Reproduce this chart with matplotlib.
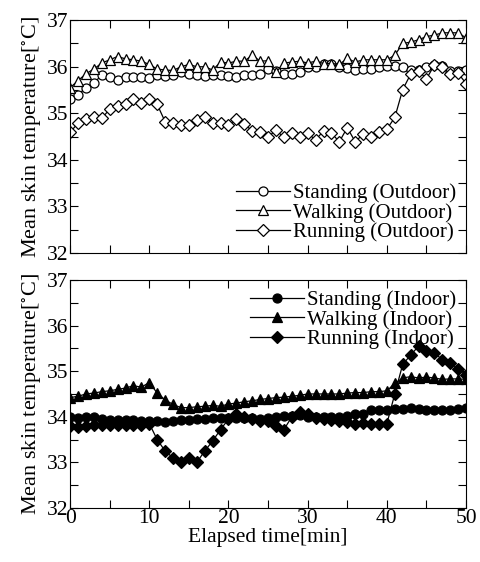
import matplotlib
matplotlib.use('Agg')
import matplotlib.pyplot as plt
from matplotlib.ticker import MultipleLocator

plt.rcParams['font.family'] = ['Liberation Serif', 'DejaVu Serif']
plt.rcParams['mathtext.fontset'] = 'stix'

# elapsed time [min]
t = list(range(0, 51))

# outdoor
stand_out = [35.30, 35.40, 35.55, 35.65, 35.82, 35.77, 35.72, 35.77, 35.78, 35.77,
             35.75, 35.83, 35.80, 35.83, 35.88, 35.85, 35.82, 35.80, 35.83, 35.83,
             35.80, 35.78, 35.83, 35.83, 35.84, 35.96, 35.90, 35.85, 35.85, 35.88,
             36.00, 36.00, 36.05, 36.05, 36.00, 35.98, 35.92, 35.96, 35.96, 35.99,
             36.02, 36.02, 35.99, 35.92, 35.92, 36.00, 36.04, 36.02, 35.90, 35.90,
             35.93]
walk_out = [35.55, 35.70, 35.85, 35.95, 36.08, 36.15, 36.22, 36.17, 36.15, 36.12,
            36.05, 35.95, 35.93, 35.92, 36.00, 36.05, 36.00, 36.00, 35.93, 36.10,
            36.08, 36.12, 36.12, 36.25, 36.12, 36.13, 35.88, 36.08, 36.10, 36.12,
            36.08, 36.12, 36.07, 36.07, 36.05, 36.18, 36.10, 36.15, 36.15, 36.15,
            36.15, 36.25, 36.50, 36.53, 36.58, 36.65, 36.68, 36.73, 36.73, 36.73,
            36.62]
run_out = [34.59, 34.79, 34.87, 34.91, 34.89, 35.09, 35.16, 35.20, 35.30, 35.23,
           35.30, 35.19, 34.82, 34.79, 34.75, 34.75, 34.86, 34.91, 34.80, 34.80,
           34.75, 34.87, 34.77, 34.62, 34.59, 34.49, 34.64, 34.48, 34.57, 34.50,
           34.57, 34.43, 34.62, 34.57, 34.39, 34.69, 34.39, 34.55, 34.49, 34.59,
           34.66, 34.91, 35.51, 35.84, 35.91, 35.74, 36.04, 36.00, 35.84, 35.86,
           35.64]

# indoor
stand_in = [34.00, 33.97, 34.00, 34.00, 33.95, 33.93, 33.92, 33.92, 33.93, 33.90,
            33.90, 33.90, 33.88, 33.90, 33.92, 33.93, 33.95, 33.95, 33.97, 33.97,
            33.98, 33.98, 33.98, 33.97, 33.96, 33.98, 34.00, 34.02, 34.02, 34.03,
            34.00, 34.00, 34.00, 34.00, 34.00, 34.02, 34.05, 34.07, 34.15, 34.15,
            34.15, 34.17, 34.18, 34.20, 34.17, 34.15, 34.15, 34.15, 34.15, 34.17,
            34.20]
walk_in = [34.42, 34.45, 34.50, 34.52, 34.55, 34.57, 34.60, 34.63, 34.68, 34.65,
           34.75, 34.52, 34.37, 34.27, 34.20, 34.20, 34.22, 34.23, 34.25, 34.23,
           34.28, 34.30, 34.33, 34.35, 34.38, 34.40, 34.42, 34.43, 34.45, 34.47,
           34.50, 34.50, 34.50, 34.50, 34.50, 34.52, 34.53, 34.53, 34.55, 34.55,
           34.57, 34.73, 34.85, 34.88, 34.85, 34.87, 34.85, 34.82, 34.83, 34.83,
           34.82]
run_in = [33.80, 33.78, 33.80, 33.82, 33.83, 33.83, 33.83, 33.83, 33.83, 33.82,
          33.85, 33.50, 33.25, 33.10, 33.00, 33.10, 33.00, 33.25, 33.47, 33.72,
          33.95, 34.05, 34.00, 33.95, 33.90, 33.90, 33.80, 33.72, 34.00, 34.10,
          34.05, 33.98, 33.95, 33.93, 33.90, 33.88, 33.85, 33.87, 33.85, 33.85,
          33.85, 34.50, 35.15, 35.35, 35.55, 35.45, 35.40, 35.25, 35.18, 35.05,
          34.92]

fig = plt.figure(figsize=(4.8, 5.62), dpi=100)
ax1 = fig.add_axes([0.146, 0.550, 0.825, 0.414])
ax2 = fig.add_axes([0.146, 0.096, 0.825, 0.406])

kw = dict(color='black', lw=0.9, mew=0.9)
ax1.plot(t, stand_out, marker='o', ms=6.5, mfc='white', label='Standing (Outdoor)', **kw)
ax1.plot(t, walk_out, marker='^', ms=7, mfc='white', label='Walking (Outdoor)', **kw)
ax1.plot(t, run_out, marker='D', ms=6, mfc='white', label='Running (Outdoor)', **kw)

ax2.plot(t, stand_in, marker='o', ms=6.5, mfc='black', label='Standing (Indoor)', **kw)
ax2.plot(t, walk_in, marker='^', ms=7, mfc='black', label='Walking (Indoor)', **kw)
ax2.plot(t, run_in, marker='D', ms=6, mfc='black', label='Running (Indoor)', **kw)

for ax in (ax1, ax2):
    ax.set_xlim(0, 50)
    ax.set_ylim(32, 37)
    ax.xaxis.set_major_locator(MultipleLocator(10))
    ax.xaxis.set_minor_locator(MultipleLocator(5))
    ax.yaxis.set_major_locator(MultipleLocator(1))
    ax.yaxis.set_minor_locator(MultipleLocator(0.5))
    ax.tick_params(which='both', direction='in', top=True, right=True,
                   labelsize=15.5, width=0.8, pad=1, length=6)
    ax.set_ylabel('Mean skin temperature[$^{\\circ}$C]', fontsize=16, labelpad=2)
    for s in ax.spines.values():
        s.set_linewidth(0.8)

ax1.tick_params(labelbottom=False)
ax2.set_xlabel('Elapsed time[min]', fontsize=15.5, labelpad=0)

leg_kw = dict(frameon=False, fontsize=15, handlelength=2.6, handletextpad=0.1,
              labelspacing=0.0, borderaxespad=0.1)
ax1.legend(loc='lower right', **leg_kw)
ax2.legend(loc='upper right', **leg_kw)

fig.savefig('out.png', dpi=100)
